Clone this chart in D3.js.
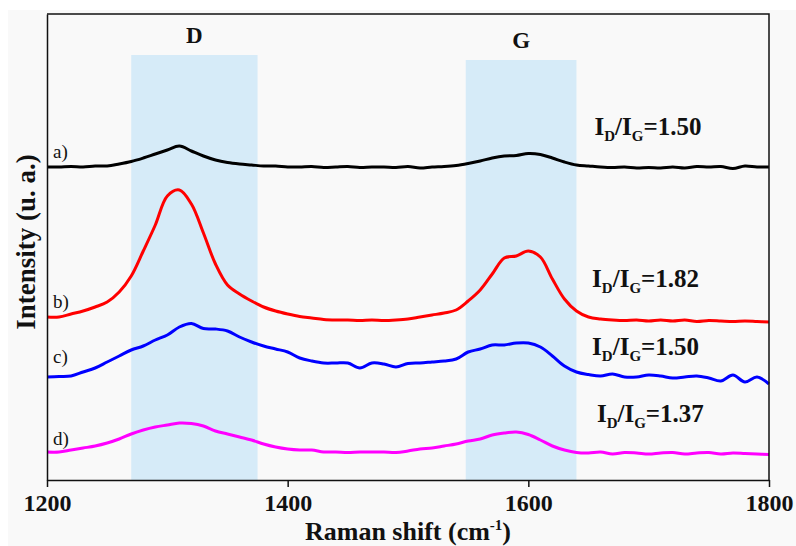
<!DOCTYPE html>
<html lang="en">
  <head>
    <meta charset="utf-8">
    <title>Raman spectra</title>
    <script src="https://d3js.org/d3.v7.min.js"></script>
    <style>
      body {
        margin: 0;
        background: #fff;
      }
      svg text {
        font-family: "Liberation Serif", "DejaVu Serif", serif;
        fill: #111;
      }
      .axis path, .axis line {
        stroke: #111;
        stroke-width: 1.5px;
      }
      .axis text {
        font-size: 24px;
        font-weight: bold;
      }
      .spectrum {
        fill: none;
        stroke-width: 3px;
        stroke-linejoin: round;
      }
    </style>
  </head>
  <body>
    <svg id="chart" width="796" height="546"></svg>

    <script>

    // data **********************************

    // Raman shift grid, cm-1 (1200 .. 1800, step 10)
    let shift = d3.range(1200, 1801, 10)

    let names = ["a)", "b)", "c)", "d)"]
    let colors = ["#000000", "#ff0000", "#0000ff", "#ff00ff"]
    let ratios = ["1.50", "1.82", "1.50", "1.37"]

    // intensities (a.u., already offset for stacking)
    let spec_a = [3130, 3130, 3135, 3130, 3140, 3140, 3160, 3185, 3220, 3260,
                  3300, 3340, 3290, 3240, 3200, 3175, 3160, 3150, 3140, 3140,
                  3130, 3130, 3135, 3125, 3130, 3135, 3125, 3130, 3130, 3125,
                  3135, 3120, 3130, 3135, 3145, 3165, 3190, 3220, 3240, 3245,
                  3265, 3255, 3220, 3180, 3150, 3140, 3130, 3125, 3130, 3120,
                  3125, 3120, 3130, 3120, 3135, 3130, 3135, 3115, 3140, 3130, 3130]

    let spec_b = [1630, 1630, 1660, 1690, 1730, 1780, 1880, 2040, 2290, 2550,
                  2840, 2900, 2760, 2470, 2160, 1950, 1860, 1790, 1730, 1690,
                  1660, 1635, 1620, 1605, 1600, 1600, 1595, 1600, 1595, 1600,
                  1610, 1630, 1650, 1670, 1700, 1790, 1900, 2060, 2220, 2240,
                  2290, 2230, 2010, 1810, 1690, 1630, 1610, 1600, 1595, 1600,
                  1590, 1600, 1590, 1600, 1585, 1595, 1590, 1585, 1590, 1585, 1580]

    let spec_c = [1030, 1035, 1040, 1080, 1120, 1180, 1240, 1300, 1340, 1400,
                  1450, 1530, 1565, 1515, 1510, 1490, 1430, 1380, 1340, 1310,
                  1280, 1220, 1190, 1170, 1170, 1170, 1120, 1170, 1160, 1130,
                  1165, 1170, 1180, 1190, 1210, 1280, 1310, 1350, 1350, 1370,
                  1370, 1330, 1240, 1140, 1080, 1055, 1040, 1060, 1030, 1030,
                  1050, 1040, 1020, 1030, 1040, 1020, 990, 1050, 980, 1030, 960]

    let spec_d = [280, 280, 300, 320, 340, 370, 410, 460, 500, 530,
                  550, 570, 565, 540, 490, 460, 430, 400, 360, 330,
                  310, 300, 300, 280, 280, 275, 280, 280, 280, 275,
                  290, 310, 320, 340, 360, 390, 410, 450, 470, 480,
                  455, 400, 340, 300, 275, 270, 280, 260, 275, 270,
                  260, 270, 275, 260, 270, 275, 260, 270, 265, 260, 255]

    let spectra = [spec_a, spec_b, spec_c, spec_d]

    // highlighted bands (cm-1) and their labels
    let bands = ["D", "G"]
    let band_lo = [1270, 1548]
    let band_hi = [1375, 1640]
    let band_top = [4250, 4200]

    // layout *********************************

    let margin = {top: 14, right: 27, bottom: 66, left: 47}
    let width = 796 - margin.left - margin.right
    let height = 546 - margin.top - margin.bottom

    let x = d3.scaleLinear().domain([1200, 1800]).range([0, width])
    let y = d3.scaleLinear().domain([0, 4660]).range([height, 0])

    // where the text labels sit, in data units
    let name_pos = [3220, 1720, 1170, 350]
    let ratio_x = [1655, 1653, 1653, 1657]
    let ratio_y = [3450, 1930, 1250, 580]

    let svg = d3.select("#chart")

    svg.append("rect")
      .attr("x", 8).attr("y", 10)
      .attr("width", 788).attr("height", 536)
      .attr("fill", "#f9f9f9")

    let g = svg.append("g")
      .attr("transform", `translate(${margin.left},${margin.top})`)

    // bands
    g.selectAll("rect.band")
      .data(bands)
      .join("rect")
        .attr("class", "band")
        .attr("x", (d, i) => x(band_lo[i]))
        .attr("width", (d, i) => x(band_hi[i]) - x(band_lo[i]))
        .attr("y", (d, i) => y(band_top[i]))
        .attr("height", (d, i) => height - y(band_top[i]))
        .attr("fill", "#d6ebf8")

    g.selectAll("text.band")
      .data(bands)
      .join("text")
        .attr("class", "band")
        .attr("x", (d, i) => (x(band_lo[i]) + x(band_hi[i])) / 2)
        .attr("y", (d, i) => y(band_top[i]) - 12)
        .attr("text-anchor", "middle")
        .style("font-size", "23px")
        .style("font-weight", "bold")
        .text(d => d)

    // spectra
    let line = d3.line()
      .x((d, i) => x(shift[i]))
      .y(d => y(d))
      .curve(d3.curveCatmullRom.alpha(0.5))

    g.selectAll("path.spectrum")
      .data(spectra)
      .join("path")
        .attr("class", "spectrum")
        .attr("stroke", (d, i) => colors[i])
        .attr("d", line)

    // axes
    g.append("g")
      .attr("class", "axis")
      .attr("transform", `translate(0,${height})`)
      .call(d3.axisBottom(x).tickValues([1200, 1400, 1600, 1800])
        .tickFormat(d3.format("d")).tickSize(7).tickSizeOuter(0))
      .call(a => a.selectAll("text").attr("y", 31).attr("dy", null))

    g.append("g")
      .attr("class", "axis")
      .call(d3.axisLeft(y).tickValues([]).tickSizeOuter(0))

    // frame top & right
    g.append("path")
      .attr("d", `M0,0H${width}V${height}`)
      .attr("fill", "none")
      .attr("stroke", "#111")
      .attr("stroke-width", 1.5)

    // series names
    g.selectAll("text.name")
      .data(names)
      .join("text")
        .attr("class", "name")
        .attr("x", 6)
        .attr("y", (d, i) => y(name_pos[i]))
        .style("font-size", "19px")
        .text(d => d)

    // I_D/I_G labels
    let rl = g.selectAll("text.ratio")
      .data(ratios)
      .join("text")
        .attr("class", "ratio")
        .attr("x", (d, i) => x(ratio_x[i]))
        .attr("y", (d, i) => y(ratio_y[i]))
        .style("font-size", "25px")
        .style("font-weight", "bold")

    rl.append("tspan").text("I")
    rl.append("tspan").attr("dy", 6).style("font-size", "15px").text("D")
    rl.append("tspan").attr("dy", -6).text("/I")
    rl.append("tspan").attr("dy", 6).style("font-size", "15px").text("G")
    rl.append("tspan").attr("dy", -6).text(d => "=" + d)

    // axis titles
    let xt = svg.append("text")
      .attr("x", margin.left + width / 2)
      .attr("y", 540)
      .attr("text-anchor", "middle")
      .style("font-size", "26px")
      .style("font-weight", "bold")
    xt.append("tspan").text("Raman shift (cm")
    xt.append("tspan").attr("dy", -10).style("font-size", "15px").text("-1")
    xt.append("tspan").attr("dy", 10).text(")")

    svg.append("text")
      .attr("transform", "translate(35,242) rotate(-90)")
      .attr("text-anchor", "middle")
      .style("font-size", "27px")
      .style("font-weight", "bold")
      .text("Intensity (u. a.)")

    </script>
  </body>
</html>
